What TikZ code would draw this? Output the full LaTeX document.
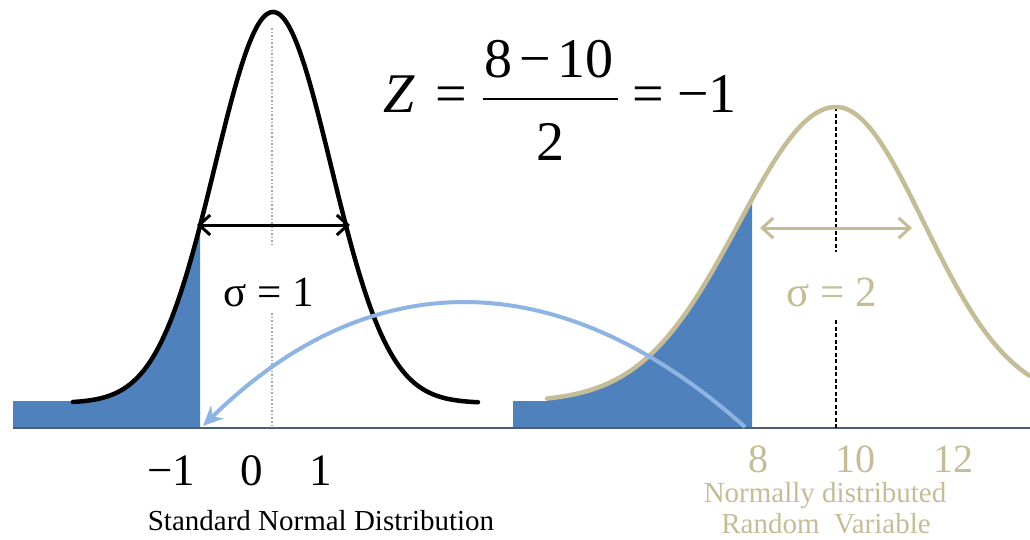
\documentclass[tikz,border=0pt]{standalone}
\usepackage{fontspec}
\setmainfont{Liberation Serif}
\usetikzlibrary{arrows.meta}
\definecolor{tanclair}{HTML}{C4BD97}
\definecolor{bleufond}{HTML}{4F81BD}
\definecolor{bleuclair}{HTML}{8EB4E3}
\definecolor{axecol}{HTML}{4A5D78}
\begin{document}
\begin{tikzpicture}[x=1pt,y=-1pt,
  courbe/.style={line width=4.5pt, line join=round, line cap=round},
  fsigma/.style={line width=3pt, >={Straight Barb[length=11pt,width=20pt]}, <->},
  etiq/.style={inner sep=0pt, font=\fontsize{43}{46}\selectfont},
  formu/.style={inner sep=0pt, anchor=base, font=\fontsize{56}{60}\selectfont},
  grad/.style={inner sep=0pt},
  legende/.style={inner sep=0pt, anchor=base, font=\fontsize{29}{32}\selectfont}]
\useasboundingbox (0,0) rectangle (1030,539);
\fill[white] (0,0) rectangle (1030,539);

% Aires bleues sous les courbes
\fill[bleufond] (13,428) -- (13,401) -- (73,401)
  -- plot[domain=73:200, samples=60, smooth] (\x, {403-391*exp(-0.5*((\x-273)/58)^2)})
  -- (200,428) -- cycle;
\fill[bleufond] (513,428) -- (513,401) -- (547,401)
  -- plot[domain=547:752, samples=60, smooth] (\x, {402-295*exp(-0.5*((\x-836)/97)^2)})
  -- (752,428) -- cycle;

% Axe horizontal
\coordinate (axeg) at (13,428);
\coordinate (axed) at (1030,428);
\draw[axecol, line width=1.4pt] (axeg) -- (axed);

% Droites des moyennes
\draw[gray!70, line width=1.6pt, dotted] (272,28) -- (272,245);
\draw[gray!70, line width=1.6pt, dotted] (272,313) -- (272,428);
\draw[black, line width=1.2pt, dash pattern=on 4pt off 2.5pt] (836,107) -- (836,252);
\draw[black, line width=1.2pt, dash pattern=on 4pt off 2.5pt] (836,320) -- (836,428);

% Loi normale centree reduite
\draw[courbe, black] plot[domain=73:478, samples=120, smooth] (\x, {403-391*exp(-0.5*((\x-273)/58)^2)});

% Loi normale de moyenne 10
\draw[courbe, tanclair] plot[domain=547:836, samples=80, smooth] (\x, {402-295*exp(-0.5*((\x-836)/97)^2)})
  -- plot[domain=836:1030, samples=60, smooth] (\x, {402-295*exp(-0.5*((\x-836)/88)^2)});

% Fleches des ecarts-types
\coordinate (s1g) at (197,225);
\coordinate (s1d) at (350,225);
\draw[fsigma, black] (s1g) -- (s1d);
\coordinate (s2g) at (760,228);
\coordinate (s2d) at (912,228);
\draw[fsigma, tanclair] (s2g) -- (s2d);

% Fleche de passage de 8 vers -1
\coordinate (depart) at (745,427);
\coordinate (arrivee) at (203,426);
\draw[bleuclair, line width=4pt, -{Stealth[length=20pt,width=18pt]}]
  (depart) .. controls (560,262) and (370,262) .. (arrivee);

% Formule du score Z
\node[formu, anchor=base west] (fz) at (383,112) {\textit{Z}};
\node[formu] (fegal1) at (451,112) {=};
\node[formu] (fnum) at (549,77) {8\kern.12em−\kern.12em10};
\draw[line width=2.2pt] (483,99) -- (618,99);
\node[formu] (fden) at (550,160) {2};
\node[formu] (fegal2) at (648,112) {=};
\node[formu] (fres) at (707,112) {−1};

% Textes
\node[etiq] (lsig1) at (269,293) {σ = 1};
\node[etiq, text=tanclair] (lsig2) at (832,292) {σ = 2};

\node[grad, font=\fontsize{45}{48}\selectfont] (lm1) at (171,471) {−1};
\node[grad, font=\fontsize{45}{48}\selectfont] (l0) at (252,471) {0};
\node[grad, font=\fontsize{45}{48}\selectfont] (l1) at (321,471) {1};
\node[grad, text=tanclair, font=\fontsize{40}{44}\selectfont] (l8) at (758,459) {8};
\node[grad, text=tanclair, font=\fontsize{40}{44}\selectfont] (l10) at (855,459) {10};
\node[grad, text=tanclair, font=\fontsize{40}{44}\selectfont] (l12) at (953,459) {12};

\node[legende] (tsnd) at (321,530) {Standard Normal Distribution};
\node[legende, text=tanclair] (tnrv1) at (825,502) {Normally distributed};
\node[legende, text=tanclair] (tnrv2) at (826,533) {Random~ Variable};
\end{tikzpicture}
\end{document}
